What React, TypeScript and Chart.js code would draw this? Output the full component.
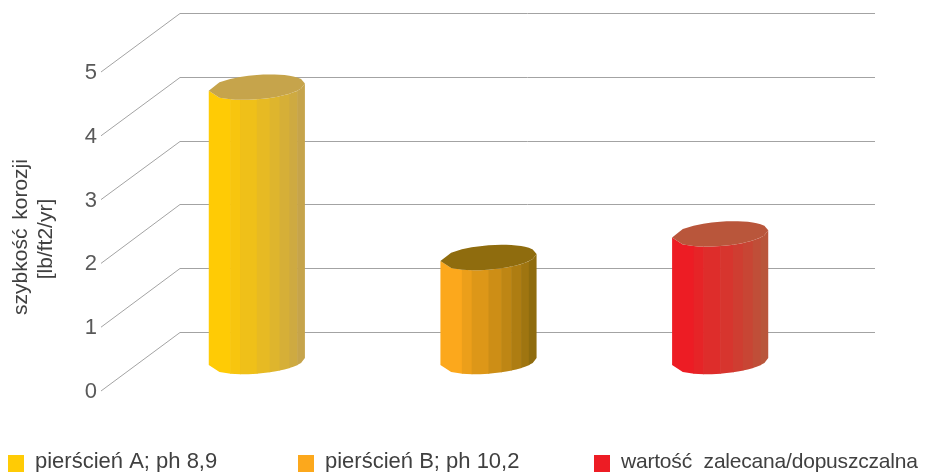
import React, { useEffect, useRef } from "react";
import { Chart, BarController, BarElement, registerables } from "chart.js";

const categories = ["pierścień A; ph 8,9", "pierścień B; ph 10,2", "wartość zalecana/dopuszczalna"];
const corrosionRates = [4.3, 1.63, 2.0];
const litColors = ["#FFCB05", "#FCA81C", "#ED1C24"];
const shadeColors = ["#C6A44B", "#8F6C0E", "#B9563B"];
const axisTitleLines = ["szybkość korozji", "[lb/ft2/yr]"];

// Floor depth of the 3D box, in pixels.
const DEPTH_X = 79;
const DEPTH_Y = 59;
// Facet edges of the cylinder, as fractions of its radius.
const FACETS = [-1, -0.554, -0.35, 0, 0.267, 0.472, 0.678, 0.84, 1];
const ELLIPSE_RY = 12.2;
const ELLIPSE_SHEAR = -0.075;

const LEGEND_X = [8, 298, 594];

const hexToRgb = (hex: string) => [1, 3, 5].map((i) => parseInt(hex.slice(i, i + 2), 16));
const mix = (a: string, b: string, t: number) => {
  const ca = hexToRgb(a);
  const cb = hexToRgb(b);
  return `rgb(${ca.map((v, i) => Math.round(v + (cb[i] - v) * t)).join(",")})`;
};

class CylinderElement extends BarElement {
  static id = "cylinderBar";
  static defaults = { ...BarElement.defaults };

  draw(ctx: CanvasRenderingContext2D) {
    const { x, y, base, width, options } = this as any;
    const rx = width / 2;
    const cx = x + 40;
    const topY = y - DEPTH_Y / 2;
    const baseY = base - DEPTH_Y / 2;
    const lit = options.backgroundColor;
    const shade = options.borderColor;
    const rim = (f: number, side: number) =>
      side * ELLIPSE_RY * Math.sqrt(Math.max(0, 1 - f * f)) + ELLIPSE_SHEAR * f * rx;

    ctx.save();
    // Side wall: flat vertical strips running from the lit tone to the shaded one.
    for (let i = 0; i < FACETS.length - 1; i++) {
      const f0 = FACETS[i];
      const f1 = FACETS[i + 1];
      const fm = (f0 + f1) / 2;
      const bleed = i < FACETS.length - 2 ? 0.6 : 0;
      ctx.beginPath();
      ctx.moveTo(cx + f0 * rx, topY + rim(f0, 1));
      ctx.lineTo(cx + fm * rx, topY + rim(fm, 1));
      ctx.lineTo(cx + f1 * rx + bleed, topY + rim(f1, 1));
      ctx.lineTo(cx + f1 * rx + bleed, baseY + rim(f1, 1));
      ctx.lineTo(cx + fm * rx, baseY + rim(fm, 1));
      ctx.lineTo(cx + f0 * rx, baseY + rim(f0, 1));
      ctx.closePath();
      ctx.fillStyle = mix(lit, shade, i / (FACETS.length - 2));
      ctx.fill();
    }
    // Top cap.
    const capEdge: number[] = [];
    FACETS.forEach((f, i) => {
      capEdge.push(f);
      if (i < FACETS.length - 1) capEdge.push((f + FACETS[i + 1]) / 2);
    });
    ctx.beginPath();
    capEdge.forEach((f) => ctx.lineTo(cx + f * rx, topY + rim(f, 1)));
    [...capEdge].reverse().forEach((f) => ctx.lineTo(cx + f * rx, topY + rim(f, -1)));
    ctx.closePath();
    ctx.fillStyle = shade;
    ctx.fill();
    ctx.restore();
  }
}

class CylinderController extends BarController {
  static id = "cylinder";
  static defaults = { ...BarController.defaults, dataElementType: "cylinderBar" };
}

Chart.register(...registerables, CylinderElement, CylinderController);

// Side wall and back wall rules, one per axis tick.
const boxGrid = {
  id: "boxGrid",
  beforeDatasetsDraw(chart: any) {
    const { ctx, chartArea, scales } = chart;
    ctx.save();
    ctx.strokeStyle = "#a3a3a3";
    ctx.lineWidth = 1;
    scales.y.ticks.forEach((tick: any) => {
      const py = scales.y.getPixelForValue(tick.value);
      const backY = Math.round(py - DEPTH_Y) + 0.5;
      ctx.beginPath();
      ctx.moveTo(chartArea.left, py);
      ctx.lineTo(chartArea.left + DEPTH_X, backY);
      ctx.lineTo(chartArea.right + DEPTH_X, backY);
      ctx.stroke();
    });
    ctx.restore();
  },
};

// Axis caption and the legend row under the box.
const captions = {
  id: "captions",
  afterDraw(chart: any) {
    const { ctx } = chart;
    ctx.save();
    ctx.textBaseline = "middle";

    ctx.font = '21px "Liberation Sans"';
    ctx.wordSpacing = "3px";
    ctx.fillStyle = "#404040";
    axisTitleLines.forEach((line, i) => {
      ctx.save();
      ctx.translate(21 + i * 25, 237 + i * 2);
      ctx.rotate(-Math.PI / 2);
      ctx.textAlign = "center";
      ctx.fillText(line, 0, 0);
      ctx.restore();
    });

    ctx.textAlign = "left";
    categories.forEach((label, i) => {
      const x = LEGEND_X[i];
      const last = i === categories.length - 1;
      ctx.fillStyle = litColors[i];
      ctx.fillRect(x, 455, 16, 17);
      ctx.fillStyle = "#404040";
      ctx.font = last ? '21px "Liberation Sans"' : '22px "Liberation Sans"';
      ctx.wordSpacing = last ? "6px" : "0px";
      ctx.letterSpacing = last ? "-0.2px" : "0px";
      ctx.fillText(label, x + 27, 462);
    });
    ctx.restore();
  },
};

export default function App() {
  const canvasRef = useRef<HTMLCanvasElement>(null);

  useEffect(() => {
    const chart = new Chart(canvasRef.current!, {
      type: "cylinder" as any,
      data: {
        labels: categories,
        datasets: [
          {
            data: corrosionRates,
            backgroundColor: litColors,
            borderColor: shadeColors,
            borderWidth: 0,
            categoryPercentage: 1,
            barPercentage: 0.415,
          },
        ],
      },
      options: {
        animation: false,
        responsive: false,
        devicePixelRatio: 1,
        layout: { padding: { left: 0, top: 72, right: 134, bottom: 81 } },
        plugins: { legend: { display: false }, tooltip: { enabled: false } },
        scales: {
          x: { type: "category", display: false, offset: true, grid: { display: false } },
          y: {
            type: "linear",
            min: 0,
            max: 5,
            afterFit(scale: any) {
              scale.width = 101;
            },
            grid: { display: false, drawTicks: false },
            border: { display: false },
            ticks: {
              stepSize: 1,
              padding: 4,
              labelOffset: 1,
              color: "#595959",
              font: { family: '"Liberation Sans"', size: 22 },
            },
          },
        },
      },
      plugins: [boxGrid, captions],
    } as any);
    return () => chart.destroy();
  }, []);

  return (
    <div style={{ position: "fixed", left: 0, top: 0, width: 930, height: 472, background: "#fff" }}>
      <canvas ref={canvasRef} width={930} height={472} style={{ display: "block" }} />
    </div>
  );
}
